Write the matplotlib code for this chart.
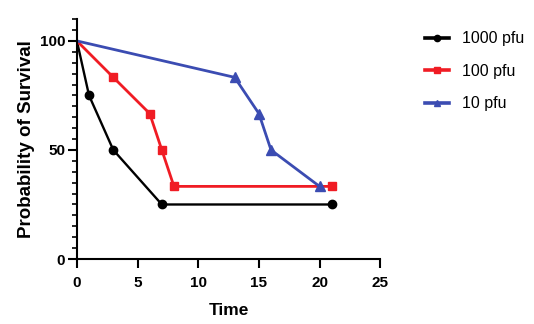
import numpy as np
import matplotlib.pyplot as plt

plt.rcParams['font.family'] = ['Liberation Sans', 'DejaVu Sans']

# survival data (time, percent surviving)
t_1000 = [0, 1, 3, 7, 21]
s_1000 = [100, 75, 50, 25, 25]

t_100 = [0, 3, 6, 7, 8, 21]
s_100 = [100, 83.3, 66.7, 50, 33.3, 33.3]

t_10 = [0, 13, 15, 16, 20]
s_10 = [100, 83.3, 66.7, 50, 33.3]

labels = ['1000 pfu', '100 pfu', '10 pfu']

fig = plt.figure(figsize=(5.34, 3.24), dpi=100)
ax = fig.add_axes([0.144, 0.2006, 0.568, 0.7404])

ax.plot(t_1000, s_1000, color='black', lw=1.7, marker='o', ms=6,
        markevery=list(range(1, len(t_1000))), label=labels[0])
ax.plot(t_100, s_100, color='#f01c24', lw=2, marker='s', ms=6,
        markevery=list(range(1, len(t_100))), label=labels[1])
ax.plot(t_10, s_10, color='#3b4cb2', lw=2, marker='^', ms=6.5,
        markevery=list(range(1, len(t_10))), label=labels[2])

ax.set_xlim(0, 25)
ax.set_ylim(0, 110)
ax.set_xticks([0, 5, 10, 15, 20, 25])
ax.set_yticks([0, 50, 100])
ax.set_yticks(np.arange(0, 111, 5), minor=True)

for side in ['top', 'right']:
    ax.spines[side].set_visible(False)
for side in ['left', 'bottom']:
    ax.spines[side].set_linewidth(1.5)

ax.tick_params(axis='both', which='major', width=1.5, length=6.5)
ax.tick_params(axis='x', which='major', pad=6)
ax.tick_params(axis='y', which='major', pad=2)
ax.tick_params(axis='y', which='minor', width=1.2, length=3.5)
for lab in ax.get_xticklabels() + ax.get_yticklabels():
    lab.set_fontweight('bold')
    lab.set_fontsize(11)

ax.set_xlabel('Time', fontsize=12.5, fontweight='bold', labelpad=9)
ax.set_ylabel('Probability of Survival', fontsize=13.5, fontweight='semibold', labelpad=3)

leg = ax.legend(loc='upper left', bbox_to_anchor=(1.10, 1.01), frameon=False,
                fontsize=11.5, handlelength=1.5, handletextpad=0.8,
                labelspacing=1.1, markerscale=0.75)
for line in leg.get_lines():
    line.set_linewidth(2.6)

fig.savefig('out.png', dpi=100)
